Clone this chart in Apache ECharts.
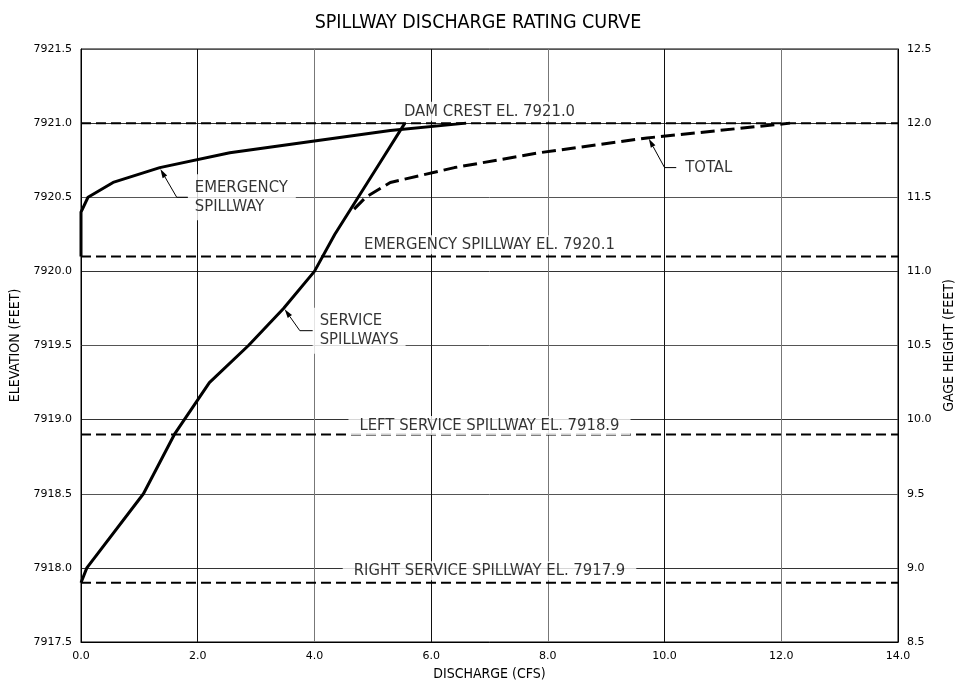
<!DOCTYPE html>
<html>
<head>
<meta charset="utf-8">
<script src="https://cdn.jsdelivr.net/npm/echarts@6/dist/echarts.min.js"></script>
<style>
  html, body { margin: 0; padding: 0; background: #fff; }
  #chart { width: 956px; height: 687px; }
</style>
</head>
<body>
<div id="chart"></div>
<script>
// Service spillways rating (discharge in cfs, elevation in feet)
const serviceQ  = [0.0, 0.1, 1.07, 1.6, 2.2, 2.87, 3.47, 4.0, 4.35, 4.75, 5.15, 5.55];
const serviceEl = [7917.9, 7918.0, 7918.5, 7918.9, 7919.25, 7919.5, 7919.75, 7920.0, 7920.25, 7920.5, 7920.75, 7921.0];

// Emergency spillway rating
const emergencyQ  = [0.0, 0.0, 0.12, 0.55, 1.35, 2.55, 4.0, 5.3, 6.6];
const emergencyEl = [7920.1, 7920.4, 7920.5, 7920.6, 7920.7, 7920.8, 7920.88, 7920.95, 7921.0];

// Combined (total) rating
const totalQ  = [4.68, 4.88, 5.3, 6.4, 7.85, 9.7, 12.15];
const totalEl = [7920.42, 7920.5, 7920.6, 7920.7, 7920.8, 7920.9, 7921.0];

// Key structure elevations
const refNames = ['DAM CREST EL. 7921.0', 'EMERGENCY SPILLWAY EL. 7920.1', 'LEFT SERVICE SPILLWAY EL. 7918.9', 'RIGHT SERVICE SPILLWAY EL. 7917.9'];
const refEl    = [7921.0, 7920.1, 7918.9, 7917.9];

// Axis ranges
const qRange    = [0, 14];
const elRange   = [7917.5, 7921.5];
const gageRange = [8.5, 12.5];

const FONT = '"DejaVu Sans Condensed", "DejaVu Sans", sans-serif';
const TICKFONT = '"DejaVu Sans", Verdana, sans-serif';

const zip = (a, b) => a.map((v, i) => [v, b[i]]);

const chart = echarts.init(document.getElementById('chart'), null, { renderer: 'canvas' });

const refSeries = refEl.map((v, i) => ({
  type: 'line',
  name: refNames[i],
  data: [[qRange[0], v], [qRange[1], v]],
  symbol: 'none',
  silent: true,
  z: 3,
  lineStyle: { color: '#000', width: 2, type: [10, 5] }
}));

// Centered annotation for each reference line, placed just above it
const refLabelPos = [[7.0, 7921.08], [7.0, 7920.18], [7.0, 7918.96], [7.0, 7917.98]];

const centeredLabels = refNames.map((n, i) => ({
  name: n,
  value: refLabelPos[i],
  label: { padding: i >= 2 ? [1, 11, 1, 11] : [1, 4, 1, 4] }
}));

const calloutLabels = [
  { name: 'EMERGENCY\nSPILLWAY', value: [1.83, 7920.5], label: { padding: [4, 8, 4, 7] } },
  { name: 'SERVICE\nSPILLWAYS', value: [3.97, 7919.6], label: { padding: [4, 7, 4, 7] } },
  { name: 'TOTAL', value: [10.2, 7920.7], label: { padding: [2, 4, 2, 9] } }
];

// Leader polylines: start (at callout), elbow, tip (on the curve)
const leaders = [
  [1.83, 7920.5, 1.64, 7920.5, 1.36, 7920.69],
  [3.97, 7919.6, 3.75, 7919.6, 3.49, 7919.745],
  [10.2, 7920.7, 10.0, 7920.7, 9.73, 7920.895]
];

function renderLeader(params, api) {
  const p1 = api.coord([api.value(0), api.value(1)]);
  const p2 = api.coord([api.value(2), api.value(3)]);
  const p3 = api.coord([api.value(4), api.value(5)]);
  const dx = p3[0] - p2[0], dy = p3[1] - p2[1];
  const len = Math.sqrt(dx * dx + dy * dy) || 1;
  const ux = dx / len, uy = dy / len;
  const headLen = 9, headHalf = 2.6;
  const bx = p3[0] - ux * headLen, by = p3[1] - uy * headLen;
  const head = [
    p3,
    [bx - uy * headHalf, by + ux * headHalf],
    [bx + uy * headHalf, by - ux * headHalf]
  ];
  return {
    type: 'group',
    children: [
      { type: 'polyline', shape: { points: [p1, p2, [bx, by]] }, style: { stroke: '#000', lineWidth: 1, fill: null } },
      { type: 'polygon', shape: { points: head }, style: { fill: '#000', stroke: null } }
    ]
  };
}

const option = {
  animation: false,
  backgroundColor: '#fff',
  title: {
    text: 'SPILLWAY DISCHARGE RATING CURVE',
    left: 'center',
    top: 8,
    textStyle: { fontFamily: FONT, fontSize: 19.5, fontWeight: 'normal', color: '#000' }
  },
  grid: {
    left: 81, right: 58, top: 49, bottom: 45,
    outerBoundsMode: 'none',
    containLabel: false,
    show: true, borderColor: '#000', borderWidth: 1, backgroundColor: 'transparent'
  },
  xAxis: {
    type: 'value',
    min: qRange[0], max: qRange[1], interval: 2,
    name: 'DISCHARGE (CFS)',
    nameLocation: 'middle',
    nameGap: 23,
    nameTextStyle: { fontFamily: FONT, fontSize: 14, color: '#000' },
    axisLine: { show: true, lineStyle: { color: '#000', width: 1 } },
    axisTick: { show: false },
    axisLabel: { margin: 9, fontFamily: TICKFONT, fontSize: 11, color: '#000', formatter: v => v.toFixed(1) },
    splitLine: { show: true, lineStyle: { color: ['#777', '#111'], width: 1 } }
  },
  yAxis: [
    {
      type: 'value',
      min: elRange[0], max: elRange[1], interval: 0.5,
      name: 'ELEVATION (FEET)',
      nameLocation: 'middle',
      nameGap: 58,
      nameRotate: 90,
      nameTextStyle: { fontFamily: FONT, fontSize: 14, color: '#000' },
      axisLine: { show: true, lineStyle: { color: '#000', width: 1 } },
      axisTick: { show: false },
      axisLabel: { margin: 9, fontFamily: TICKFONT, fontSize: 11, color: '#000', formatter: v => v.toFixed(1) },
      splitLine: { show: true, lineStyle: { color: ['#555', '#333'], width: 1 } }
    },
    {
      type: 'value',
      position: 'right',
      min: gageRange[0], max: gageRange[1], interval: 0.5,
      name: 'GAGE HEIGHT (FEET)',
      nameLocation: 'middle',
      nameGap: 43,
      nameRotate: 90,
      nameTextStyle: { fontFamily: FONT, fontSize: 14, color: '#000' },
      axisLine: { show: true, lineStyle: { color: '#000', width: 1 } },
      axisTick: { show: false },
      axisLabel: { margin: 9, fontFamily: TICKFONT, fontSize: 11, color: '#000', formatter: v => v.toFixed(1) },
      splitLine: { show: false }
    }
  ],
  series: [
    ...refSeries,
    {
      type: 'scatter',
      name: 'reference labels',
      data: centeredLabels,
      symbolSize: 0,
      silent: true,
      z: 4,
      label: {
        show: true,
        position: 'inside',
        formatter: '{b}',
        fontFamily: FONT, fontSize: 16.5, color: '#000',
        backgroundColor: '#fff'
      }
    },
    {
      type: 'scatter',
      name: 'callouts',
      data: calloutLabels,
      symbolSize: 0,
      silent: true,
      z: 4,
      label: {
        show: true,
        position: 'right',
        distance: 0,
        align: 'left',
        formatter: '{b}',
        fontFamily: FONT, fontSize: 16.5, lineHeight: 19, color: '#000',
        backgroundColor: '#fff'
      }
    },
    {
      type: 'custom',
      name: 'leaders',
      silent: true,
      z: 5,
      renderItem: renderLeader,
      encode: { x: [0, 2, 4], y: [1, 3, 5] },
      data: leaders
    },
    {
      type: 'line',
      name: 'EMERGENCY SPILLWAY',
      data: zip(emergencyQ, emergencyEl),
      symbol: 'none',
      z: 6,
      lineStyle: { color: '#000', width: 3, join: 'round' }
    },
    {
      type: 'line',
      name: 'SERVICE SPILLWAYS',
      data: zip(serviceQ, serviceEl),
      symbol: 'none',
      z: 6,
      lineStyle: { color: '#000', width: 3, join: 'round' }
    },
    {
      type: 'line',
      name: 'TOTAL',
      data: zip(totalQ, totalEl),
      symbol: 'none',
      z: 6,
      lineStyle: { color: '#000', width: 3, type: [14, 6] }
    }
  ]
};

chart.setOption(option);
</script>
</body>
</html>
